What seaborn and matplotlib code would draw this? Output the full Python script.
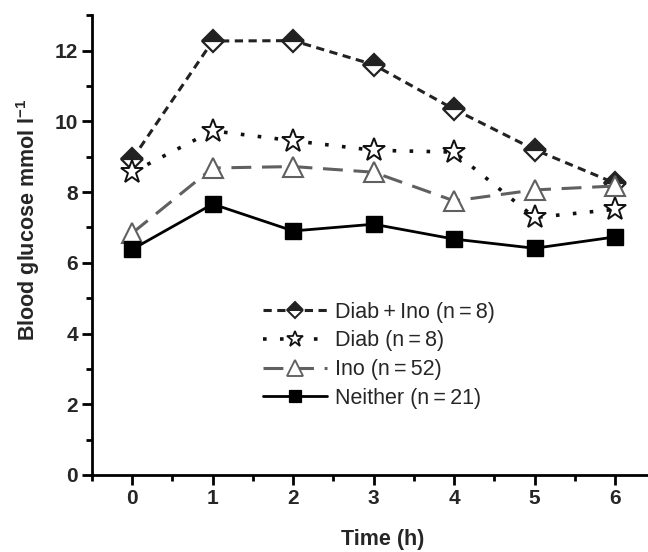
import matplotlib
matplotlib.use("Agg")
import matplotlib.pyplot as plt
import seaborn as sns
import pandas as pd
from matplotlib.lines import Line2D
from matplotlib.ticker import MultipleLocator

sns.set_style("white")
plt.rcParams['font.family'] = ['Liberation Sans', 'DejaVu Sans']
plt.rcParams['mathtext.fontset'] = 'custom'
plt.rcParams['mathtext.rm'] = 'Liberation Sans:bold'
plt.rcParams['mathtext.it'] = 'Liberation Sans:bold'
plt.rcParams['mathtext.bf'] = 'Liberation Sans:bold'

time_h = [0, 1, 2, 3, 4, 5, 6]
diab_ino = [8.93, 12.27, 12.28, 11.6, 10.34, 9.2, 8.25]
diab = [8.56, 9.73, 9.45, 9.18, 9.13, 7.28, 7.51]
ino = [6.84, 8.68, 8.72, 8.56, 7.75, 8.06, 8.17]
neither = [6.38, 7.66, 6.9, 7.09, 6.67, 6.41, 6.73]

labels = ["Diab\u2009+\u2009Ino (n\u2009=\u20098)", "Diab (n\u2009=\u20098)",
          "Ino (n\u2009=\u200952)", "Neither (n\u2009=\u200921)"]

fig = plt.figure(figsize=(6.48, 5.52), dpi=100)
ax = fig.add_axes([0.142, 0.1395, 0.858, 0.833])

styles = [
    dict(color="#222222", ls=(0, (2.7, 1.8)), lw=2.2, marker="D", ms=11,
         mfc="#222222", mfcalt="white", mec="#222222", fillstyle="top", mew=1.6, lms=8.5),
    dict(color="#111111", ls=(0, (1.0, 3.7)), lw=2.6, marker="*", ms=17,
         mfc="white", mec="#111111", fillstyle="full", mew=1.4, lms=12),
    dict(color="#606060", ls=(0, (6.5, 3.5)), lw=2.2, marker="^", ms=15,
         mfc="white", mec="#606060", fillstyle="full", mew=1.5, lms=11),
    dict(color="#000000", ls="-", lw=2.0, marker="s", ms=11,
         mfc="#000000", mec="#000000", fillstyle="full", mew=1.0, lms=9),
]
series = [diab_ino, diab, ino, neither]

handles = []
for vals, st, lab in zip(series, styles, labels):
    df = pd.DataFrame({"t": time_h, "g": vals})
    sns.lineplot(data=df, x="t", y="g", ax=ax, color=st["color"])
    ln = ax.lines[-1]
    ln.set_linestyle(st["ls"])
    ln.set_linewidth(st["lw"])
    ln.set_marker(st["marker"])
    ln.set_markersize(st["ms"])
    ln.set_fillstyle(st["fillstyle"])
    ln.set_markerfacecolor(st["mfc"])
    if "mfcalt" in st:
        ln.set_markerfacecoloralt(st["mfcalt"])
    ln.set_markeredgecolor(st["mec"])
    ln.set_markeredgewidth(st["mew"])
    h = Line2D([], [], color=st["color"], ls=st["ls"], lw=st["lw"], marker=st["marker"],
               ms=st["lms"], fillstyle=st["fillstyle"], mfc=st["mfc"],
               mec=st["mec"], mew=st["mew"] * 0.9)
    if "mfcalt" in st:
        h.set_markerfacecoloralt(st["mfcalt"])
    handles.append(h)

ax.set_xlim(-0.5, 6.41)
ax.set_ylim(0, 13)
ax.xaxis.set_major_locator(MultipleLocator(1))
ax.xaxis.set_minor_locator(MultipleLocator(0.5))
ax.yaxis.set_minor_locator(MultipleLocator(1))
ax.set_yticks([0, 2, 4, 6, 8, 10, 12])
ax.tick_params(axis="both", which="major", direction="out", length=7, width=2,
               labelsize=15, color="black", bottom=True, left=True, pad=3)
ax.tick_params(axis="both", which="minor", direction="out", length=4, width=2,
               color="black", bottom=True, left=True)
for lab in ax.get_xticklabels() + ax.get_yticklabels():
    lab.set_fontweight("bold")

for s in ["top", "right"]:
    ax.spines[s].set_visible(False)
for s in ["left", "bottom"]:
    ax.spines[s].set_linewidth(2)
    ax.spines[s].set_color("black")

ax.set_xlabel("Time (h)", fontsize=15.5, fontweight="bold")
ax.set_ylabel(r"Blood glucose mmol l$^{-1}$", fontsize=15.5, fontweight="bold")
ax.xaxis.set_label_coords(0.523, -0.117)
ax.yaxis.set_label_coords(-0.09, 0.554)

leg = ax.legend(handles, labels, loc="upper left", bbox_to_anchor=(0.307, 0.377),
                frameon=False, fontsize=15.5, handlelength=3.0, handletextpad=0.35,
                labelspacing=0.36, borderaxespad=0, borderpad=0)

fig.savefig("out.png", dpi=100)
